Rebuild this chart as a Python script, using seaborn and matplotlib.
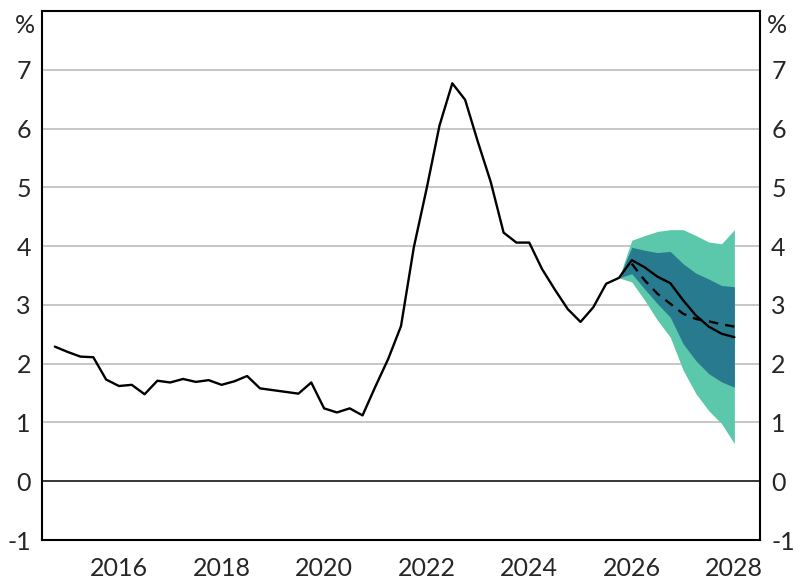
import numpy as np
import matplotlib.pyplot as plt
import seaborn as sns
import pandas as pd

# quarterly history, first point 2015.25
hist_start = 2015.25
hist_vals = [2.29, 2.20, 2.12, 2.11, 1.73, 1.62, 1.64, 1.48, 1.71, 1.68,
             1.74, 1.69, 1.72, 1.64, 1.70, 1.79, 1.58, 1.55, 1.52, 1.49,
             1.68, 1.24, 1.17, 1.24, 1.12, 1.61, 2.08, 2.64, 3.98, 4.98,
             6.05, 6.77, 6.49, 5.77, 5.09, 4.23, 4.06, 4.06, 3.61, 3.26,
             2.93, 2.71, 2.96, 3.36, 3.46, 3.76, 3.64, 3.48, 3.37, 3.08,
             2.82, 2.63, 2.51, 2.45]

# forecast, from 2026.25 to 2028.5
fc_x = [2026.25, 2026.5, 2026.75, 2027.0, 2027.25, 2027.5, 2027.75, 2028.0, 2028.25, 2028.5]
outer_hi = [3.46, 4.10, 4.18, 4.25, 4.28, 4.28, 4.18, 4.07, 4.04, 4.28]
inner_hi = [3.46, 3.98, 3.93, 3.89, 3.91, 3.70, 3.54, 3.44, 3.33, 3.31]
inner_lo = [3.46, 3.53, 3.27, 3.02, 2.79, 2.34, 2.05, 1.83, 1.69, 1.60]
outer_lo = [3.46, 3.39, 3.08, 2.74, 2.45, 1.89, 1.49, 1.20, 0.98, 0.64]

dash_x = [2026.5, 2026.75, 2027.0, 2027.25, 2027.5, 2027.75, 2028.0, 2028.25, 2028.5]
dash_vals = [3.70, 3.42, 3.19, 3.02, 2.85, 2.76, 2.72, 2.67, 2.63]

year_ticks = list(range(2016, 2029))
year_labels = list(range(2016, 2029, 2))
y_ticks = list(range(-1, 8))

sns.set_style("white")
plt.rcParams['font.family'] = ['Lato', 'DejaVu Sans']

hist = pd.DataFrame({"date": hist_start + 0.25 * np.arange(len(hist_vals)),
                     "value": hist_vals})
dash = pd.DataFrame({"date": dash_x, "value": dash_vals})

fig = plt.figure(figsize=(7.94, 5.85), dpi=100)
ax = fig.add_axes([0.0529, 0.0769, 0.9043, 0.9043])

for v in y_ticks[2:]:
    ax.axhline(v, color="#b8b8b8", lw=1.1, zorder=0)
ax.axhline(0, color="black", lw=1.1, zorder=1)

ax.fill_between(fc_x, outer_lo, outer_hi, color="#5cc8ab", lw=0, zorder=2)
ax.fill_between(fc_x, inner_lo, inner_hi, color="#287b8f", lw=0, zorder=3)

sns.lineplot(data=hist, x="date", y="value", color="black", lw=1.7, ax=ax, zorder=5)
sns.lineplot(data=dash, x="date", y="value", color="black", lw=1.7, ax=ax,
             linestyle=(0, (4, 3)), zorder=5)

ax.set_xlim(2015, 2029)
ax.set_ylim(-1, 8)
ax.set_xlabel("")
ax.set_ylabel("")

ax.set_xticks(year_ticks)
ax.set_xticklabels([])
ax.set_xticks([y + 0.5 for y in year_labels], minor=True)
ax.set_xticklabels([str(y) for y in year_labels], minor=True)
ax.tick_params(axis="x", which="major", direction="in", length=6, width=1, color="black")
ax.tick_params(axis="x", which="minor", length=0, pad=12, labelsize=18)

ax.set_yticks(y_ticks)
ax.set_yticklabels([str(v) for v in y_ticks])
ax.tick_params(axis="y", length=0, labelsize=18, pad=8, left=True, right=True,
               labelleft=True, labelright=True)

for s in ax.spines.values():
    s.set_color("black")
    s.set_linewidth(1.5)

ax.text(-0.01, 7.75, "%", transform=ax.get_yaxis_transform(), ha="right",
        va="center", fontsize=18)
ax.text(1.01, 7.75, "%", transform=ax.get_yaxis_transform(), ha="left",
        va="center", fontsize=18)

fig.savefig("out.png", dpi=100)
